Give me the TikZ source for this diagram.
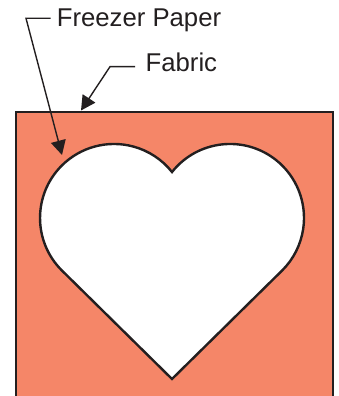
\documentclass[tikz,border=0pt]{standalone}
\usepackage{fontspec}
\setmainfont{Liberation Sans}
\usetikzlibrary{arrows.meta}
\definecolor{fabricfill}{RGB}{245,134,104}
\definecolor{inkline}{RGB}{35,31,32}

\begin{document}
\begin{tikzpicture}[x=1pt,y=1pt,
  leader/.style={draw=inkline,line width=1.4pt,-{Triangle[length=14.5pt,width=15pt]}},
  labeltext/.style={anchor=west,font=\fontsize{25.7}{30}\selectfont,text=inkline,inner ysep=0pt,text depth=0pt}]
  \useasboundingbox (0,0) rectangle (339,396);
  % fabric square, open at the bottom
  \fill[fabricfill] (15.5,-5) rectangle (333.3,283.5);
  \draw[inkline,line width=2pt] (15.5,-5) -- (15.5,283.5) -- (333.3,283.5) -- (333.3,-5);
  % freezer paper heart
  \draw[inkline,line width=2.4pt,fill=white]
    (172,17) -- (61.7,125.7) arc[start angle=225,end angle=38.4,radius=74]
    arc[start angle=141.6,end angle=-45,radius=74] -- cycle;
  % labels
  \node[labeltext,inner xsep=6pt,text height=16.8pt] (fp) at (50.7,377.7) {Freezer Paper};
  \node[labeltext,inner xsep=10.5pt,text height=10pt] (fab) at (135,329.3) {Fabric};
  \coordinate (fpbend) at (26,377.7);
  \coordinate (fptip) at (62,241);
  \coordinate (fabbend) at (110,329.3);
  \coordinate (fabtip) at (81,285.5);
  \draw[leader] (fp.west) -- (fpbend) -- (fptip);
  \draw[leader] (fab.west) -- (fabbend) -- (fabtip);
\end{tikzpicture}
\end{document}
